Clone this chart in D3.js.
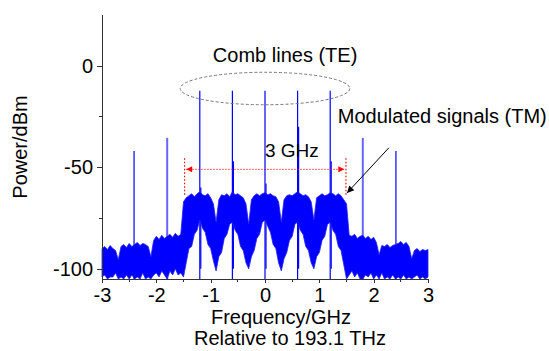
<!DOCTYPE html>
<html lang="en">

<head>
  <meta charset="UTF-8">
  <title>Comb spectrum</title>
  <script src="https://d3js.org/d3.v7.min.js"></script>
  <style>
    body {
      margin: 0;
      background: #fff;
    }

    text {
      font-family: "Liberation Sans", Arial, sans-serif;
      fill: #000;
    }

    .axis path,
    .axis line {
      stroke: #333;
      stroke-width: 1;
      shape-rendering: crispEdges;
    }

    .axis text {
      font-size: 20px;
    }
  </style>
</head>

<body>
  <svg id="chart" width="549" height="351"></svg>

  <script>
    // spectrum envelope, sampled every 0.05 GHz from -3 to 3
    const freqStart = -3;
    const freqStep = 0.05;
    const upperDbm = [
      -90, -89, -90.5, -88.5, -90, -91, -95.5, -89, -88, -89.5,
      -87.5, -89, -88, -87, -88.5, -87.5, -88, -89, -94, -86,
      -84, -85.5, -83.5, -85, -84, -83, -84.5, -82.5, -84, -83,
      -67, -65, -64, -63, -64.5, -63, -62, -63.5, -64, -63,
      -65, -68, -77, -66, -63.5, -64, -63, -64.5, -62, -63.5,
      -63, -64, -65, -68, -78, -66, -64, -63, -64, -63,
      -62.5, -63.5, -63, -64, -64.5, -67, -77, -66, -64, -63.5,
      -64, -63, -62, -63, -64, -63.5, -64.5, -67, -76, -65,
      -64, -63, -64, -63.5, -62.5, -63, -64, -63, -64, -66,
      -68, -83.5, -84, -83, -85, -84, -83.5, -85, -84, -85.5,
      -84.5, -87, -93, -88.5, -89, -88, -89.5, -88.5, -88, -87.5,
      -86.5, -88, -87, -89, -95, -91, -90, -91.5, -90.5, -91,
      -90.5
    ];
    const lowerDbm = [
      -104, -103, -105, -104, -104, -102, -105, -104, -105, -103,
      -105, -103, -105, -104, -105, -102, -105, -104, -105, -103,
      -102, -104, -101, -103, -105, -101, -103, -100, -103, -102,
      -104, -97, -90, -89, -83, -81, -76, -80, -82, -88,
      -90, -96, -101, -94, -92, -85, -83, -78, -77, -81,
      -83, -89, -91, -97, -100, -94, -91, -85, -83, -77,
      -76, -79, -82, -88, -90, -97, -101, -95, -92, -86,
      -84, -78, -77, -81, -83, -89, -91, -97, -100, -94,
      -92, -86, -84, -78, -77, -81, -83, -89, -91, -98,
      -105, -103, -101, -104, -102, -105, -105, -103, -104, -102,
      -105, -103, -105, -102, -105, -104, -105, -103, -105, -104,
      -105, -103, -105, -104, -105, -104, -103, -105, -104, -105,
      -104
    ];

    // comb lines (TE)
    const combFreq = [-2.41, -1.8, -1.2, -0.6, 0, 0.6, 1.2, 1.8, 2.41];
    const combPeak = [-42, -35.5, -12.3, -12.3, -12.3, -12.3, -12.3, -35.5, -42];
    // TM carriers sitting next to the comb lines
    const tmFreq = [-1.2, -0.6, 0, 0.6, 1.2];
    const tmPeak = [-60, -47, -58, -30, -47];

    const xTicks = [-3, -2, -1, 0, 1, 2, 3];
    const xMinor = [-2.5, -1.5, -0.5, 0.5, 1.5, 2.5];
    const yTicks = [0, -50, -100];
    const yMinor = [-25, -75];

    const margin = { top: 15, right: 121, bottom: 72, left: 102 };
    const width = 549 - margin.left - margin.right;
    const height = 351 - margin.top - margin.bottom;

    const root = d3.select("#chart");
    const svg = root.append("g")
      .attr("transform", `translate(${margin.left},${margin.top})`);

    const x = d3.scaleLinear().domain([-3, 3]).range([0, width]);
    const y = d3.scaleLinear().domain([-105, 25]).range([height, 0]);

    const defs = root.append("defs");
    defs.append("marker")
      .attr("id", "red-head")
      .attr("viewBox", "0 0 10 10")
      .attr("refX", 10).attr("refY", 5)
      .attr("markerWidth", 8).attr("markerHeight", 6)
      .attr("markerUnits", "userSpaceOnUse")
      .attr("orient", "auto-start-reverse")
      .append("path").attr("d", "M0,0L10,5L0,10z").attr("fill", "#ff0000");
    defs.append("marker")
      .attr("id", "black-head")
      .attr("viewBox", "0 0 10 10")
      .attr("refX", 10).attr("refY", 5)
      .attr("markerWidth", 10).attr("markerHeight", 7)
      .attr("markerUnits", "userSpaceOnUse")
      .attr("orient", "auto")
      .append("path").attr("d", "M0,0L10,5L0,10z").attr("fill", "#000");

    const spectrum = upperDbm.map((u, i) => ({ f: freqStart + i * freqStep, hi: u, lo: lowerDbm[i] }));

    // TM carriers
    svg.selectAll(".tm")
      .data(tmFreq)
      .enter().append("line")
      .attr("class", "tm")
      .attr("x1", d => x(d) + 1).attr("x2", d => x(d) + 1)
      .attr("y1", y(-100)).attr("y2", (d, i) => y(tmPeak[i]))
      .attr("stroke", "#0000ff").attr("stroke-width", 1.2);

    // comb lines
    svg.selectAll(".comb")
      .data(combFreq)
      .enter().append("line")
      .attr("class", "comb")
      .attr("x1", d => x(d)).attr("x2", d => x(d))
      .attr("y1", y(-105)).attr("y2", (d, i) => y(combPeak[i]))
      .attr("stroke", "#0000ff")
      .attr("stroke-width", d => Math.abs(d) === 1.8 ? 2 : 1.2)
      .attr("stroke-opacity", d => Math.abs(d) === 1.8 ? 0.6 : 1);

    // noise / modulated spectrum band
    svg.append("path")
      .datum(spectrum)
      .attr("fill", "#0000ff")
      .attr("stroke", "#2020ff")
      .attr("stroke-width", 0.8)
      .attr("d", d3.area()
        .x(d => x(d.f))
        .y0(d => y(d.lo))
        .y1(d => y(d.hi)));

    // axes
    const xAxis = svg.append("g")
      .attr("class", "axis")
      .attr("transform", `translate(0,${height})`)
      .call(d3.axisBottom(x).tickValues(xTicks).tickSizeInner(4).tickSizeOuter(0).tickPadding(5)
        .tickFormat(d => d < 0 ? "-" + Math.abs(d) : d));
    xAxis.selectAll(".minor")
      .data(xMinor)
      .enter().append("line")
      .attr("class", "minor")
      .attr("x1", d => x(d)).attr("x2", d => x(d))
      .attr("y1", 0).attr("y2", 2.5);

    const yAxis = svg.append("g")
      .attr("class", "axis")
      .call(d3.axisLeft(y).tickValues(yTicks).tickSizeInner(5).tickSizeOuter(0).tickPadding(4)
        .tickFormat(d => d < 0 ? "-" + Math.abs(d) : d));
    yAxis.selectAll(".minor")
      .data(yMinor)
      .enter().append("line")
      .attr("class", "minor")
      .attr("x1", 0).attr("x2", -3)
      .attr("y1", d => y(d)).attr("y2", d => y(d));

    yAxis.select(".domain").attr("d", `M0,0V${height}`);
    xAxis.select(".domain").attr("d", `M0,0H${width}`);

    // axis titles
    root.append("text")
      .attr("transform", `translate(27,147) rotate(-90)`)
      .attr("text-anchor", "middle")
      .style("font-size", "20px")
      .text("Power/dBm");
    root.append("text")
      .attr("x", 281).attr("y", 324)
      .attr("text-anchor", "middle")
      .style("font-size", "20px")
      .text("Frequency/GHz");
    root.append("text")
      .attr("x", 290).attr("y", 345)
      .attr("text-anchor", "middle")
      .style("font-size", "20px")
      .text("Relative to 193.1 THz");

    // annotations
    svg.append("ellipse")
      .attr("cx", x(0)).attr("cy", y(-11.2))
      .attr("rx", x(1.56) - x(0)).attr("ry", y(-19.2) - y(-11.2))
      .attr("fill", "none")
      .attr("stroke", "#777")
      .attr("stroke-width", 1)
      .attr("stroke-dasharray", "3,2");

    svg.append("text")
      .attr("x", x(0.37)).attr("y", y(2))
      .attr("text-anchor", "middle")
      .style("font-size", "20px")
      .text("Comb lines (TE)");

    svg.append("text")
      .attr("x", x(1.34)).attr("y", y(-28))
      .style("font-size", "20px")
      .text("Modulated signals (TM)");

    svg.append("text")
      .attr("x", x(0)).attr("y", y(-44.8))
      .style("font-size", "19px")
      .text("3 GHz");

    // 3 GHz span marker
    [-1.48, 1.49].forEach(f => {
      svg.append("line")
        .attr("x1", x(f)).attr("x2", x(f))
        .attr("y1", y(-45.5)).attr("y2", y(-64))
        .attr("stroke", "#ff0000")
        .attr("stroke-width", 1.2)
        .attr("stroke-dasharray", "1.5,2");
    });
    svg.append("line")
      .attr("x1", x(-1.45)).attr("x2", x(1.46))
      .attr("y1", y(-51)).attr("y2", y(-51))
      .attr("stroke", "#ff0000")
      .attr("stroke-width", 0.8)
      .attr("stroke-dasharray", "1.5,1.5")
      .attr("marker-start", "url(#red-head)")
      .attr("marker-end", "url(#red-head)");

    // pointer to the TM band
    svg.append("line")
      .attr("x1", x(2.28)).attr("y1", y(-40.4))
      .attr("x2", x(1.51)).attr("y2", y(-62.6))
      .attr("stroke", "#000")
      .attr("stroke-width", 1)
      .attr("marker-end", "url(#black-head)");
  </script>
</body>

</html>
